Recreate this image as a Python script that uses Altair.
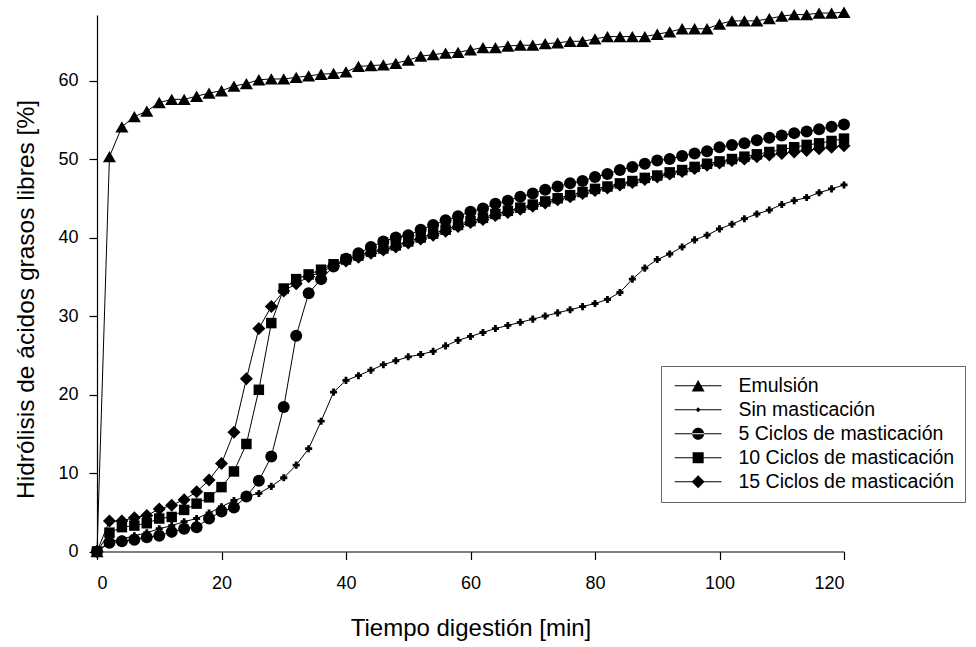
import altair as alt
import pandas as pd

# ---------------- data ----------------
time_min = [0, 2, 4, 6, 8, 10, 12, 14, 16, 18, 20, 22, 24, 26, 28, 30, 32, 34, 36, 38,
            40, 42, 44, 46, 48, 50, 52, 54, 56, 58, 60, 62, 64, 66, 68, 70, 72, 74, 76, 78,
            80, 82, 84, 86, 88, 90, 92, 94, 96, 98, 100, 102, 104, 106, 108, 110, 112, 114,
            116, 118, 120]

series_names = ["Emulsión", "Sin masticación", "5 Ciclos de masticación",
                "10 Ciclos de masticación", "15 Ciclos de masticación"]

emulsion = [0, 50.3, 54.1, 55.4, 56.1, 57.2, 57.6, 57.6, 58.0, 58.4, 58.7, 59.3, 59.6, 60.1,
            60.2, 60.2, 60.4, 60.6, 60.8, 60.9, 61.1, 61.8, 61.9, 62.0, 62.2, 62.6, 63.1, 63.3,
            63.5, 63.6, 63.9, 64.2, 64.2, 64.4, 64.5, 64.5, 64.7, 64.8, 65.0, 65.0, 65.3, 65.6,
            65.6, 65.6, 65.6, 65.9, 66.2, 66.6, 66.6, 66.6, 67.2, 67.6, 67.6, 67.6, 67.9, 68.2,
            68.4, 68.4, 68.6, 68.6, 68.7]

sin_masticacion = [0, 1.2, 1.6, 2.0, 2.4, 2.9, 3.3, 3.8, 4.2, 4.9, 5.7, 6.5, 7.0, 7.4, 8.3,
                   9.4, 11.0, 13.1, 16.6, 20.3, 21.8, 22.4, 23.1, 23.8, 24.3, 24.8, 25.1, 25.5,
                   26.2, 26.9, 27.4, 27.9, 28.4, 28.8, 29.2, 29.6, 30.0, 30.4, 30.8, 31.2, 31.6,
                   32.1, 33.0, 34.7, 36.1, 37.2, 37.9, 38.8, 39.7, 40.3, 41.1, 41.7, 42.4, 43.0,
                   43.5, 44.2, 44.7, 45.1, 45.7, 46.2, 46.7]

ciclos_5 = [0, 1.1, 1.3, 1.5, 1.8, 2.0, 2.5, 2.9, 3.1, 4.2, 5.1, 5.6, 7.0, 9.0, 12.1, 18.4,
            27.5, 32.9, 34.7, 36.3, 37.3, 38.0, 38.8, 39.5, 40.0, 40.3, 41.0, 41.6, 42.2, 42.7,
            43.3, 43.7, 44.3, 44.7, 45.2, 45.6, 46.1, 46.5, 46.9, 47.2, 47.7, 48.1, 48.6, 49.0,
            49.4, 49.8, 50.0, 50.4, 50.7, 51.0, 51.5, 51.8, 52.0, 52.4, 52.7, 53.0, 53.3, 53.5,
            53.8, 54.1, 54.4]

ciclos_10 = [0, 2.4, 3.1, 3.3, 3.6, 4.2, 4.4, 5.3, 6.1, 6.9, 8.2, 10.2, 13.7, 20.6, 29.1, 33.5,
             34.7, 35.3, 35.9, 36.6, 37.2, 37.7, 38.2, 38.6, 39.0, 39.5, 40.0, 40.5, 41.0, 41.6,
             42.1, 42.5, 43.0, 43.4, 43.8, 44.2, 44.6, 45.0, 45.4, 45.8, 46.2, 46.5, 46.9, 47.2,
             47.6, 47.9, 48.3, 48.6, 49.0, 49.4, 49.7, 50.0, 50.3, 50.6, 50.9, 51.2, 51.5, 51.8,
             52.0, 52.3, 52.6]

ciclos_15 = [0, 3.9, 3.9, 4.3, 4.6, 5.4, 5.9, 6.6, 7.6, 9.1, 11.2, 15.2, 22.0, 28.4, 31.2, 33.2,
             34.1, 35.0, 35.6, 36.4, 37.0, 37.5, 38.0, 38.4, 38.8, 39.3, 39.8, 40.3, 40.8, 41.4,
             41.9, 42.3, 42.8, 43.2, 43.6, 44.0, 44.4, 44.8, 45.2, 45.6, 46.0, 46.3, 46.7, 47.0,
             47.4, 47.7, 48.1, 48.4, 48.8, 49.2, 49.5, 49.8, 50.0, 50.3, 50.5, 50.7, 50.9, 51.1,
             51.3, 51.5, 51.7]

x_ticks = [0, 20, 40, 60, 80, 100, 120]
y_ticks = [0, 10, 20, 30, 40, 50, 60]

all_series = [emulsion, sin_masticacion, ciclos_5, ciclos_10, ciclos_15]
records = []
for name, vals in zip(series_names, all_series):
    for t, v in zip(time_min, vals):
        records.append({"t": t, "v": v, "s": name})
df = pd.DataFrame(records)

# ---------------- styling ----------------
FONT = "Liberation Sans"
plot_shapes = ["triangle-up", "cross", "circle", "square", "diamond"]
plot_sizes = [170, 50, 144, 110, 169]
# legend symbols: thin horizontal bar with the marker in the middle (unit box paths)
LINE = "M-1,-0.085H6.8V0.085H-1Z"
legend_paths = [
    LINE + "M2.9,-0.94L3.98,0.94L1.82,0.94Z",
    LINE + "M2.9,-0.4L3.3,0L2.9,0.4L2.5,0Z",
    LINE + "M1.9,0A1,1,0,1,0,3.9,0A1,1,0,1,0,1.9,0Z",
    LINE + "M1.98,-0.92H3.82V0.92H1.98Z",
    LINE + "M1.82,0L2.9,-1.08L3.98,0L2.9,1.08Z",
]

x_enc = alt.X(
    "t:Q",
    scale=alt.Scale(domain=[0, 120], nice=False),
    axis=alt.Axis(
        values=x_ticks, title="Tiempo digestión [min]", titleFontSize=24,
        titleY=83.5, titleBaseline="alphabetic", labelPadding=15, format="d",
    ),
)
y_enc = alt.Y(
    "v:Q",
    scale=alt.Scale(domain=[0, 68.35], nice=False, zero=True),
    axis=alt.Axis(
        values=y_ticks, title="Hidrólisis de ácidos grasos libres [%]", titleFontSize=24.5,
        titleAngle=270, titleX=-63.4, titleY=284, titleBaseline="alphabetic",
        titleAlign="center", labelPadding=11, format="d",
    ),
)

base = alt.Chart(df)

lines = base.mark_line(color="black", strokeWidth=1).encode(
    x=x_enc, y=y_enc, detail="s:N", order="t:Q"
)

point_layers = []
for name, shp, sz in zip(series_names, plot_shapes, plot_sizes):
    point_layers.append(
        base.transform_filter(alt.datum.s == name)
        .mark_point(shape=shp, size=sz, filled=True, color="black", opacity=1, strokeWidth=0)
        .encode(x=x_enc, y=y_enc)
    )

legend_layer = base.transform_filter("false").mark_point(
    filled=True, color="black", size=144, opacity=1
).encode(
    x=x_enc,
    y=y_enc,
    shape=alt.Shape(
        "s:N",
        scale=alt.Scale(domain=series_names, range=legend_paths),
        legend=alt.Legend(
            title=None, orient="none", legendX=564, legendY=351,
            symbolSize=144, symbolFillColor="black",
            labelFont=FONT, labelFontSize=19.5, labelColor="black", labelLimit=400,
            labelOffset=48, rowPadding=3, padding=10, strokeColor="#666666",
        ),
    ),
)

chart = (
    alt.layer(lines, *point_layers, legend_layer)
    .properties(
        width=747, height=536.5, autosize="none",
        padding={"left": 97, "top": 15, "right": 132, "bottom": 95.5},
        background="white",
    )
    .configure_view(stroke=None)
    .configure_axis(
        grid=False, domainColor="black", domainWidth=1.2, tickColor="black", tickWidth=1.2,
        tickSize=8, labelFont=FONT, labelFontSize=18, labelColor="black",
        titleFont=FONT, titleFontWeight="normal", titleColor="black",
    )
)

chart.save("out.html", embed_options={"renderer": "svg", "actions": False})
